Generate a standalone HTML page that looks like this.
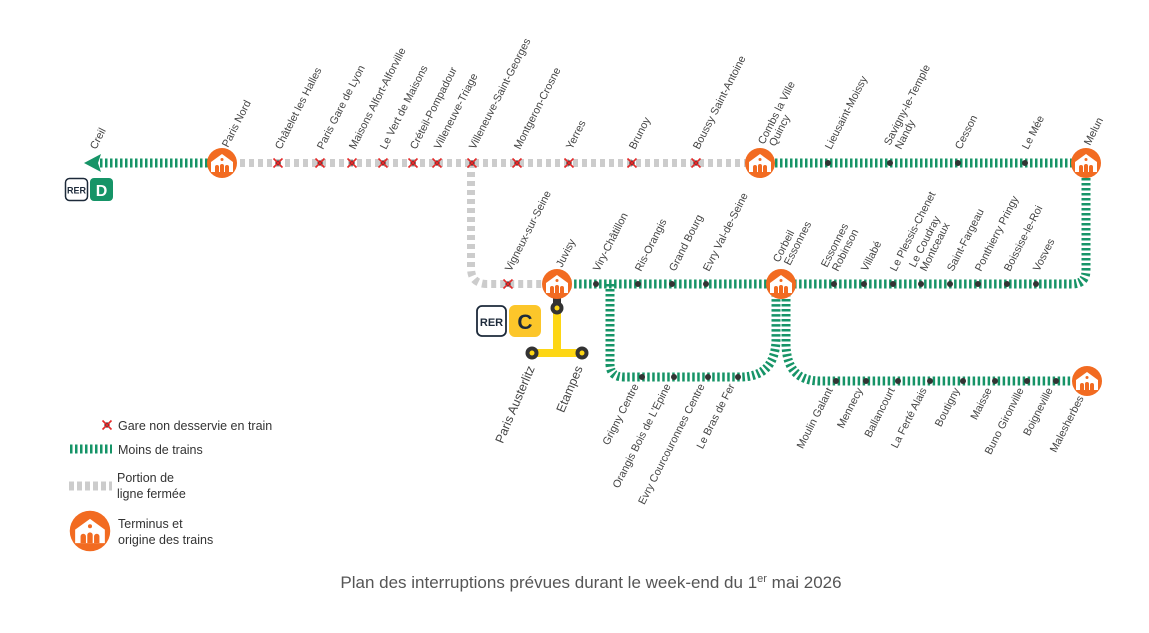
<!DOCTYPE html>
<html><head><meta charset="utf-8"><style>
html,body{margin:0;padding:0;background:#fff;}
svg{display:block;font-family:"Liberation Sans","DejaVu Sans",sans-serif;}
.l{font-size:10.8px;fill:#444;}
</style></head><body>
<svg width="1149" height="633" viewBox="0 0 1149 633" xmlns="http://www.w3.org/2000/svg">
<defs>
<g id="term">
<circle r="15" fill="#f26b21"/>
<path d="M-11,-1 L0,-9 L11,-1 L11,9 L-11,9 Z" fill="#fff"/>
<path d="M-7,9 v-5 a2,2 0 0 1 4,0 v5 Z M-2,9 v-6 a2,2 0 0 1 4,0 v6 Z M3,9 v-5 a2,2 0 0 1 4,0 v5 Z" fill="#f26b21"/>
<circle cx="0" cy="-3.5" r="1.5" fill="#f26b21"/>
</g>
<g id="xm">
<rect x="-2.5" y="-2.5" width="5" height="5" fill="#222"/>
<path d="M-4.5,-4.5 L4.5,4.5 M4.5,-4.5 L-4.5,4.5" stroke="#e52a2a" stroke-width="1.6"/>
</g>
</defs>
<g fill="none">
<g stroke="#cccccc" stroke-width="8" stroke-dasharray="5 4">
<path d="M222,163 H760"/>
<path d="M471,163 V268 Q471,284 487,284 H557"/>
</g>
<g stroke="#169467" stroke-width="9" stroke-dasharray="2.5 2.5">
<path d="M100,163 H222"/>
<path d="M760,163 H1086"/>
<path d="M1086,163 V270 Q1086,284 1072,284 H557"/>
<path d="M610,284 V364 Q610,377 624,377 H740 Q775,377 776,340 V284"/>
<path d="M786,284 V345 Q787,381 820,381 H1087"/>
</g>
<path d="M557,284 V308" stroke="#333" stroke-width="8"/>
<path d="M557,308 V353 M532,353 H582" stroke="#fdd614" stroke-width="8"/>
</g>
<polygon points="84,163 101,154 98,163 101,172" fill="#169467"/>
<g fill="#333">
<circle cx="557" cy="308" r="6.5"/><circle cx="532" cy="353" r="6.5"/><circle cx="582" cy="353" r="6.5"/>
</g>
<g fill="#fdd614"><circle cx="557" cy="308" r="2.5"/><circle cx="532" cy="353" r="2.5"/><circle cx="582" cy="353" r="2.5"/></g>
<use href="#xm" x="278" y="163"/><use href="#xm" x="320" y="163"/><use href="#xm" x="352" y="163"/><use href="#xm" x="383" y="163"/><use href="#xm" x="413" y="163"/><use href="#xm" x="437" y="163"/><use href="#xm" x="472" y="163"/><use href="#xm" x="517" y="163"/><use href="#xm" x="569" y="163"/><use href="#xm" x="632" y="163"/><use href="#xm" x="696" y="163"/><use href="#xm" x="508" y="284"/>
<g fill="#333">
<circle cx="828" cy="163" r="3"/><circle cx="890" cy="163" r="3"/><circle cx="958" cy="163" r="3"/><circle cx="1025" cy="163" r="3"/>
<circle cx="596" cy="284" r="3"/><circle cx="638" cy="284" r="3"/><circle cx="672" cy="284" r="3"/><circle cx="706" cy="284" r="3"/>
<circle cx="834" cy="284" r="3"/><circle cx="864" cy="284" r="3"/><circle cx="893" cy="284" r="3"/><circle cx="921" cy="284" r="3"/><circle cx="950" cy="284" r="3"/><circle cx="978" cy="284" r="3"/><circle cx="1007" cy="284" r="3"/><circle cx="1036" cy="284" r="3"/>
<circle cx="642" cy="377" r="3"/><circle cx="674" cy="377" r="3"/><circle cx="708" cy="377" r="3"/><circle cx="738" cy="377" r="3"/>
<circle cx="836" cy="381" r="3"/><circle cx="866" cy="381" r="3"/><circle cx="898" cy="381" r="3"/><circle cx="930" cy="381" r="3"/><circle cx="963" cy="381" r="3"/><circle cx="995" cy="381" r="3"/><circle cx="1027" cy="381" r="3"/><circle cx="1056" cy="381" r="3"/>
</g>
<use href="#term" x="222" y="163"/><use href="#term" x="760" y="163"/><use href="#term" x="1086" y="163"/>
<use href="#term" x="557" y="284"/><use href="#term" x="781" y="284"/><use href="#term" x="1087" y="381"/>
<g class="l">
<text transform="translate(96,150) rotate(-63)">Creil</text>
<text transform="translate(228,148) rotate(-63)">Paris Nord</text>
<text transform="translate(281,150) rotate(-63)">Châtelet les Halles</text>
<text transform="translate(323,150) rotate(-63)">Paris Gare de Lyon</text>
<text transform="translate(355,150) rotate(-63)">Maisons Alfort-Alforville</text>
<text transform="translate(386,150) rotate(-63)">Le Vert de Maisons</text>
<text transform="translate(416,150) rotate(-63)">Créteil-Pompadour</text>
<text transform="translate(440,150) rotate(-63)">Villeneuve-Triage</text>
<text transform="translate(475,150) rotate(-63)">Villeneuve-Saint-Georges</text>
<text transform="translate(520,150) rotate(-63)">Montgeron-Crosne</text>
<text transform="translate(572,150) rotate(-63)">Yerres</text>
<text transform="translate(635,150) rotate(-63)">Brunoy</text>
<text transform="translate(699,150) rotate(-63)">Boussy Saint-Antoine</text>
<text transform="translate(764,145) rotate(-63)">Combs la Ville</text>
<text transform="translate(775,147) rotate(-63)">Quincy</text>
<text transform="translate(831,150) rotate(-63)">Lieusaint-Moissy</text>
<text transform="translate(890,146) rotate(-63)">Savigny-le-Temple</text>
<text transform="translate(901,150) rotate(-63)">Nandy</text>
<text transform="translate(961,150) rotate(-63)">Cesson</text>
<text transform="translate(1028,150) rotate(-63)">Le Mée</text>
<text transform="translate(1090,146) rotate(-63)">Melun</text>
<text transform="translate(511,272) rotate(-63)">Vigneux-sur-Seine</text>
<text transform="translate(562,268) rotate(-63)">Juvisy</text>
<text transform="translate(599,272) rotate(-63)">Viry-Châtillon</text>
<text transform="translate(641,272) rotate(-63)">Ris-Orangis</text>
<text transform="translate(675,272) rotate(-63)">Grand Bourg</text>
<text transform="translate(709,272) rotate(-63)">Evry Val-de-Seine</text>
<text transform="translate(779,263) rotate(-63)">Corbeil</text>
<text transform="translate(790,266) rotate(-63)">Essonnes</text>
<text transform="translate(827,268) rotate(-63)">Essonnes</text>
<text transform="translate(838,272) rotate(-63)">Robinson</text>
<text transform="translate(867,272) rotate(-63)">Villabé</text>
<text transform="translate(896,272) rotate(-63)">Le Plessis-Chenet</text>
<text transform="translate(915,268) rotate(-63)">Le Coudray</text>
<text transform="translate(926,272) rotate(-63)">Montceaux</text>
<text transform="translate(953,272) rotate(-63)">Saint-Fargeau</text>
<text transform="translate(981,272) rotate(-63)">Ponthierry Pringy</text>
<text transform="translate(1010,272) rotate(-63)">Boissise-le-Roi</text>
<text transform="translate(1039,272) rotate(-63)">Vosves</text>
</g>
<g class="l" text-anchor="end">
<text transform="translate(639,386) rotate(-63)">Grigny Centre</text>
<text transform="translate(671,386) rotate(-63)">Orangis Bois de L'Epine</text>
<text transform="translate(705,386) rotate(-63)">Evry Courcouronnes Centre</text>
<text transform="translate(735,386) rotate(-63)">Le Bras de Fer</text>
<text transform="translate(833,390) rotate(-63)">Moulin Galant</text>
<text transform="translate(863,390) rotate(-63)">Mennecy</text>
<text transform="translate(895,390) rotate(-63)">Ballancourt</text>
<text transform="translate(927,390) rotate(-63)">La Ferté Alais</text>
<text transform="translate(960,390) rotate(-63)">Boutigny</text>
<text transform="translate(992,390) rotate(-63)">Maisse</text>
<text transform="translate(1024,390) rotate(-63)">Buno Gironville</text>
<text transform="translate(1053,390) rotate(-63)">Boigneville</text>
<text transform="translate(1084,398) rotate(-63)">Malesherbes</text>
<text transform="translate(535,368) rotate(-67)" style="font-size:12.5px">Paris Austerlitz</text>
<text transform="translate(583,368) rotate(-67)" style="font-size:12.5px">Etampes</text>
</g>
<rect x="65.5" y="178.5" width="22" height="22" rx="4" fill="#fff" stroke="#1d2a3a" stroke-width="1.5"/>
<text x="76.5" y="193.5" text-anchor="middle" style="font-size:9px;font-weight:bold;fill:#1d2a3a">RER</text>
<rect x="90" y="178" width="23" height="23" rx="4" fill="#169467"/>
<text x="101.5" y="196" text-anchor="middle" style="font-size:16px;font-weight:bold;fill:#fff">D</text>
<rect x="477" y="306" width="29" height="30" rx="5" fill="#fff" stroke="#1d2a3a" stroke-width="1.8"/>
<text x="491.5" y="326" text-anchor="middle" style="font-size:11px;font-weight:bold;fill:#1d2a3a">RER</text>
<rect x="509" y="305" width="32" height="32" rx="6" fill="#fcc62a"/>
<text x="525" y="329" text-anchor="middle" style="font-size:21px;font-weight:bold;fill:#1d2a3a">C</text>
<use href="#xm" x="107" y="425"/>
<text x="118" y="430" style="font-size:12.5px;fill:#333">Gare non desservie en train</text>
<path d="M70,449 H112" stroke="#169467" stroke-width="9" stroke-dasharray="2.5 2.5"/>
<text x="118" y="454" style="font-size:12.5px;fill:#333">Moins de trains</text>
<path d="M69,486 H112" stroke="#cccccc" stroke-width="9" stroke-dasharray="5 3"/>
<text x="117" y="482" style="font-size:12.5px;fill:#333">Portion de</text>
<text x="117" y="498" style="font-size:12.5px;fill:#333">ligne fermée</text>
<g transform="translate(90,531) scale(1.35)"><use href="#term"/></g>
<text x="118" y="528" style="font-size:12.5px;fill:#333">Terminus et</text>
<text x="118" y="544" style="font-size:12.5px;fill:#333">origine des trains</text>
<text x="591" y="588" text-anchor="middle" style="font-size:17px;fill:#555">Plan des interruptions prévues durant le week-end du 1<tspan dy="-6" style="font-size:11px">er</tspan><tspan dy="6"> mai 2026</tspan></text>
</svg>
</body></html>
